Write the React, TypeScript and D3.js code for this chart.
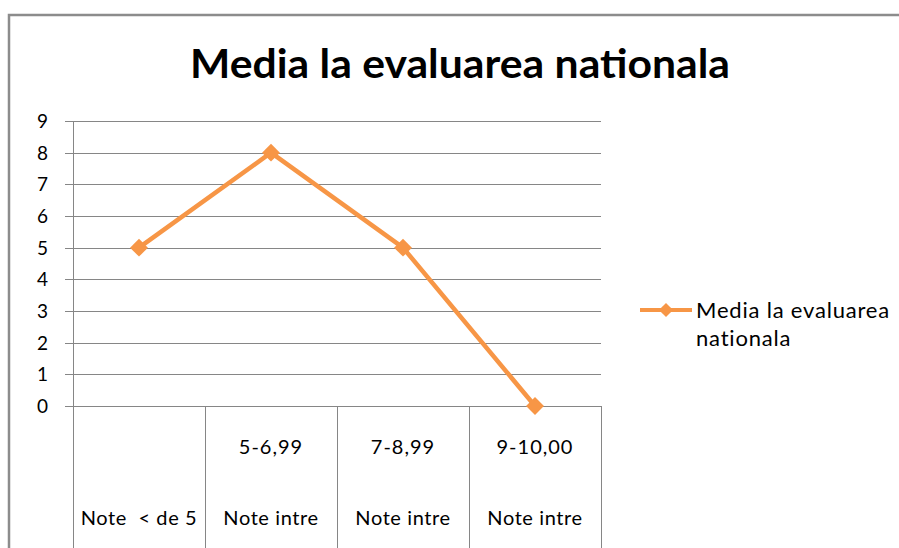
import React, { useEffect, useRef } from 'react';
import * as d3 from 'd3';

const outerLabels = ['Note  < de 5', 'Note intre', 'Note intre', 'Note intre'];
const innerLabels = ['', '5-6,99', '7-8,99', '9-10,00'];
const values = [5, 8, 5, 0];
const yTicks = [0, 1, 2, 3, 4, 5, 6, 7, 8, 9];
const seriesName = 'Media la evaluarea nationala';
const chartTitle = 'Media la evaluarea nationala';

const width = 899;
const height = 548;

const App: React.FC = () => {
  const svgRef = useRef<SVGSVGElement>(null);

  useEffect(() => {
    if (!svgRef.current) return;
    const svg = d3.select(svgRef.current);
    svg.selectAll('*').remove();

    const colors = {
      line: '#f79646',
      grid: '#868686',
      border: '#8c8c8c',
      text: '#000000'
    };
    const font = "Lato, 'Open Sans', sans-serif";

    const plot = { left: 73, right: 601, top: 121, bottom: 406 };
    const cats = outerLabels.map((_, i) => `c${i}`);

    const x = d3.scaleBand()
      .domain(cats)
      .range([plot.left, plot.right])
      .padding(0);

    const y = d3.scaleLinear()
      .domain([0, 9])
      .range([plot.bottom, plot.top]);

    // background + outer border
    svg.append('rect')
      .attr('width', width)
      .attr('height', height)
      .attr('fill', '#ffffff');

    svg.append('rect')
      .attr('x', 9)
      .attr('y', 15)
      .attr('width', width + 20)
      .attr('height', height + 20)
      .attr('fill', 'none')
      .attr('stroke', colors.border)
      .attr('stroke-width', 2.5);

    // Title
    svg.append('text')
      .attr('x', 460)
      .attr('y', 78)
      .attr('text-anchor', 'middle')
      .attr('font-family', font)
      .attr('font-size', '40px')
      .attr('font-weight', '700')
      .attr('fill', colors.text)
      .attr('textLength', 540)
      .attr('lengthAdjust', 'spacingAndGlyphs')
      .text(chartTitle);

    // Grid lines (with short tick stubs on the left)
    svg.append('g')
      .selectAll('line')
      .data(yTicks)
      .enter().append('line')
      .attr('x1', plot.left - 8)
      .attr('x2', plot.right)
      .attr('y1', d => Math.round(y(d)) + 0.5)
      .attr('y2', d => Math.round(y(d)) + 0.5)
      .attr('stroke', colors.grid)
      .attr('stroke-width', 1);

    // Y axis line
    svg.append('line')
      .attr('x1', plot.left + 0.5)
      .attr('x2', plot.left + 0.5)
      .attr('y1', plot.top)
      .attr('y2', plot.bottom)
      .attr('stroke', colors.grid);

    // Y tick labels
    svg.append('g')
      .selectAll('text')
      .data(yTicks)
      .enter().append('text')
      .attr('x', 48)
      .attr('y', d => y(d) + 7)
      .attr('text-anchor', 'end')
      .attr('font-family', font)
      .attr('font-size', '19px')
      .attr('fill', colors.text)
      .text(d => d);

    // Category separators (multi-level table)
    const bounds = cats.map(c => x(c) || 0).concat([plot.right]);
    svg.append('g')
      .selectAll('line')
      .data(bounds)
      .enter().append('line')
      .attr('x1', d => Math.round(d) + 0.5)
      .attr('x2', d => Math.round(d) + 0.5)
      .attr('y1', plot.bottom)
      .attr('y2', height)
      .attr('stroke', colors.grid);

    // Category labels
    svg.append('g')
      .selectAll('text')
      .data(innerLabels)
      .enter().append('text')
      .attr('x', (_, i) => (x(cats[i]) || 0) + x.bandwidth() / 2)
      .attr('y', 454)
      .attr('text-anchor', 'middle')
      .attr('font-family', font)
      .attr('font-size', '20px')
      .attr('letter-spacing', '1px')
      .attr('fill', colors.text)
      .text(d => d);

    svg.append('g')
      .selectAll('text')
      .data(outerLabels)
      .enter().append('text')
      .attr('x', (_, i) => (x(cats[i]) || 0) + x.bandwidth() / 2)
      .attr('y', 525)
      .attr('text-anchor', 'middle')
      .attr('font-family', font)
      .attr('font-size', '20px')
      .attr('letter-spacing', '0.6px')
      .attr('fill', colors.text)
      .style('white-space', 'pre')
      .text(d => d);

    // Line
    const pts = values.map((v, i) => ({ cx: (x(cats[i]) || 0) + x.bandwidth() / 2, cy: y(v) }));
    const lineGen = d3.line<{ cx: number; cy: number }>()
      .x(d => d.cx)
      .y(d => d.cy);

    svg.append('path')
      .datum(pts)
      .attr('fill', 'none')
      .attr('stroke', colors.line)
      .attr('stroke-width', 4.5)
      .attr('stroke-linejoin', 'round')
      .attr('d', lineGen);

    const marker = d3.symbol().type(d3.symbolSquare).size(160);
    svg.append('g')
      .selectAll('path')
      .data(pts)
      .enter().append('path')
      .attr('d', marker)
      .attr('transform', d => `translate(${d.cx},${d.cy}) rotate(45)`)
      .attr('fill', colors.line);

    // Legend
    const lg = svg.append('g').attr('transform', 'translate(640,310)');
    lg.append('line')
      .attr('x1', 0)
      .attr('x2', 52)
      .attr('y1', 0)
      .attr('y2', 0)
      .attr('stroke', colors.line)
      .attr('stroke-width', 4);
    lg.append('path')
      .attr('d', d3.symbol().type(d3.symbolSquare).size(100))
      .attr('transform', 'translate(26,0) rotate(45)')
      .attr('fill', colors.line);
    const words = seriesName.split(' ');
    lg.append('text')
      .attr('x', 56)
      .attr('y', 8)
      .attr('font-family', font)
      .attr('font-size', '22px')
      .attr('letter-spacing', '0.8px')
      .attr('fill', colors.text)
      .text(words.slice(0, 3).join(' '));
    lg.append('text')
      .attr('x', 56)
      .attr('y', 36)
      .attr('font-family', font)
      .attr('font-size', '22px')
      .attr('letter-spacing', '0.8px')
      .attr('fill', colors.text)
      .text(words.slice(3).join(' '));
  }, []);

  return (
    <svg
      ref={svgRef}
      width={width}
      height={height}
      style={{ position: 'absolute', left: 0, top: 0, display: 'block' }}
    />
  );
};

export default App;
